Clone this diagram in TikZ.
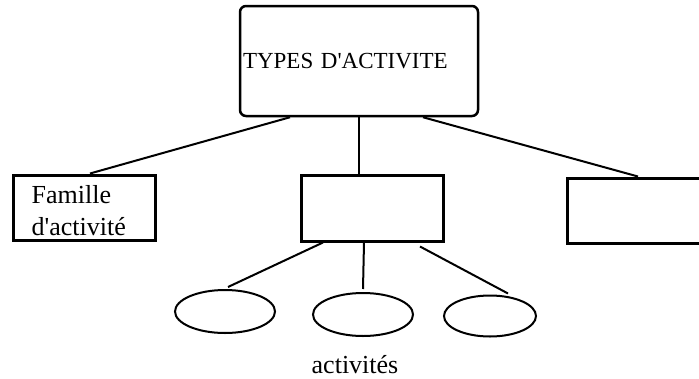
\documentclass[tikz,border=0pt]{standalone}
\usepackage{fontspec}
\setmainfont{Liberation Serif}
\usetikzlibrary{shapes.geometric}

\tikzset{
  boite/.style={draw, line width=3pt, minimum width=142pt, inner sep=0pt},
  bulle/.style={draw, ellipse, line width=2pt, inner sep=0pt},
  trait/.style={line width=2pt}
}

\begin{document}
\begin{tikzpicture}[x=1pt,y=-1pt]
\useasboundingbox (0,0) rectangle (699,378);

\node[draw, rounded corners=6pt, line width=2.5pt, minimum width=238pt, minimum height=110pt,
  text width=232pt, inner sep=3pt, align=left, font=\fontsize{23}{26}\selectfont] (types) at (359,61) {TYPES D\textquotesingle ACTIVITE};

\node[boite, minimum height=65pt] (fam) at (84,207.5) {};
\node[anchor=base west, align=left, inner sep=0pt, font=\fontsize{26}{32}\selectfont] (famtxt)
  at ([xshift=20pt,yshift=-62pt]fam.north west) {Famille\\d\textquotesingle activit\'e};
\node[boite, minimum height=66pt] (mid) at (372,208) {};
\node[boite, minimum height=65pt] (droite) at (638,210.5) {};

\node[bulle, minimum width=100pt, minimum height=43pt] (e1) at (225,311.5) {};
\node[bulle, minimum width=100pt, minimum height=43pt] (e2) at (363,314.5) {};
\node[bulle, minimum width=92pt, minimum height=41pt] (e3) at (490,316) {};

\node[anchor=base, font=\fontsize{26}{30}\selectfont] (act) at (355,373) {activit\'es};

\draw[trait] ([xshift=-69pt]types.south) -- ([xshift=6pt]fam.north);
\draw[trait] (types.south) -- (types.south |- mid.north);
\draw[trait] ([xshift=64pt]types.south) -- (droite.north);

\draw[trait] ([xshift=-49pt]mid.south) -- ([xshift=3pt,yshift=2pt]e1.north);
\draw[trait] ([xshift=-8pt]mid.south) -- ([yshift=3pt]e2.north);
\draw[trait] ([xshift=48pt,yshift=-4pt]mid.south) -- ([xshift=18pt,yshift=1pt]e3.north);

\end{tikzpicture}
\end{document}
